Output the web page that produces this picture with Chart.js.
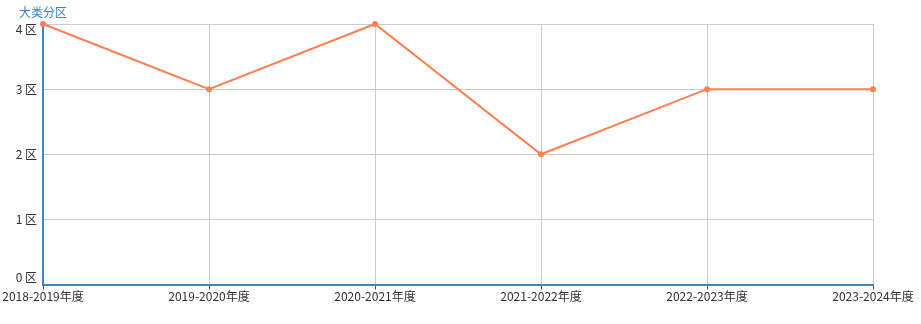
<!DOCTYPE html>
<html>
<head>
<meta charset="utf-8">
<script src="https://cdn.jsdelivr.net/npm/chart.js@4/dist/chart.umd.min.js"></script>
<style>
  html, body { margin: 0; padding: 0; background: #fff; }
  #wrap { width: 921px; height: 324px; position: relative; }
</style>
</head>
<body>
<div id="wrap"><canvas id="chart"></canvas></div>
<script>
const years = ['2018-2019年度', '2019-2020年度', '2020-2021年度', '2021-2022年度', '2022-2023年度', '2023-2024年度'];
const zoneValues = [4, 3, 4, 2, 3, 3];
const zoneLabels = ['0 区', '1 区', '2 区', '3 区', '4 区'];
const axisName = '大类分区';

const AXIS_BLUE = '#3b86c4';
const LINE_COLOR = '#ff7f50';
const FONT = "'Noto Sans CJK SC', 'Noto Sans', sans-serif";

// y axis name drawn above the axis line
const axisNamePlugin = {
    id: 'axisName',
    afterDraw(chart) {
        const { ctx, chartArea } = chart;
        ctx.save();
        ctx.font = '12px ' + FONT;
        ctx.fillStyle = AXIS_BLUE;
        ctx.textAlign = 'center';
        ctx.textBaseline = 'middle';
        ctx.fillText(axisName, chartArea.left, chartArea.top - 12);
        ctx.restore();
    }
};

new Chart(document.getElementById('chart').getContext('2d'), {
    type: 'line',
    data: {
        labels: years,
        datasets: [{
            data: zoneValues,
            borderColor: LINE_COLOR,
            backgroundColor: LINE_COLOR,
            borderWidth: 2,
            pointRadius: 3,
            pointBorderWidth: 0,
            tension: 0,
            clip: false
        }]
    },
    options: {
        responsive: true,
        maintainAspectRatio: false,
        animation: false,
        layout: { padding: { top: 24, right: 48, left: 0, bottom: 20 } },
        plugins: {
            legend: { display: false },
            tooltip: { enabled: false }
        },
        scales: {
            x: {
                offset: false,
                grid: { color: '#cccccc', lineWidth: 1, drawTicks: true, tickLength: 5, tickColor: '#555' },
                border: { color: AXIS_BLUE, width: 2 },
                ticks: { color: '#333', font: { family: FONT, size: 12 }, maxRotation: 0, autoSkip: false, padding: 0 }
            },
            y: {
                min: 0,
                max: 4,
                afterFit(scale) { scale.width = 43; },
                grid: { color: '#cccccc', lineWidth: 1, drawTicks: false },
                border: { color: AXIS_BLUE, width: 2 },
                ticks: {
                    stepSize: 1,
                    color: '#333',
                    padding: 6,
                    font: (c) => ({ family: FONT, size: 12, lineHeight: c.tick && c.tick.value === 4 ? 0.85 : 1.2 }),
                    // top and bottom labels are nudged inside the plot
                    callback: (v) => {
                        if (v === 4) return ['', zoneLabels[v]];
                        if (v === 0) return [zoneLabels[v], ''];
                        return zoneLabels[v];
                    }
                }
            }
        }
    },
    plugins: [axisNamePlugin]
});
</script>
</body>
</html>
